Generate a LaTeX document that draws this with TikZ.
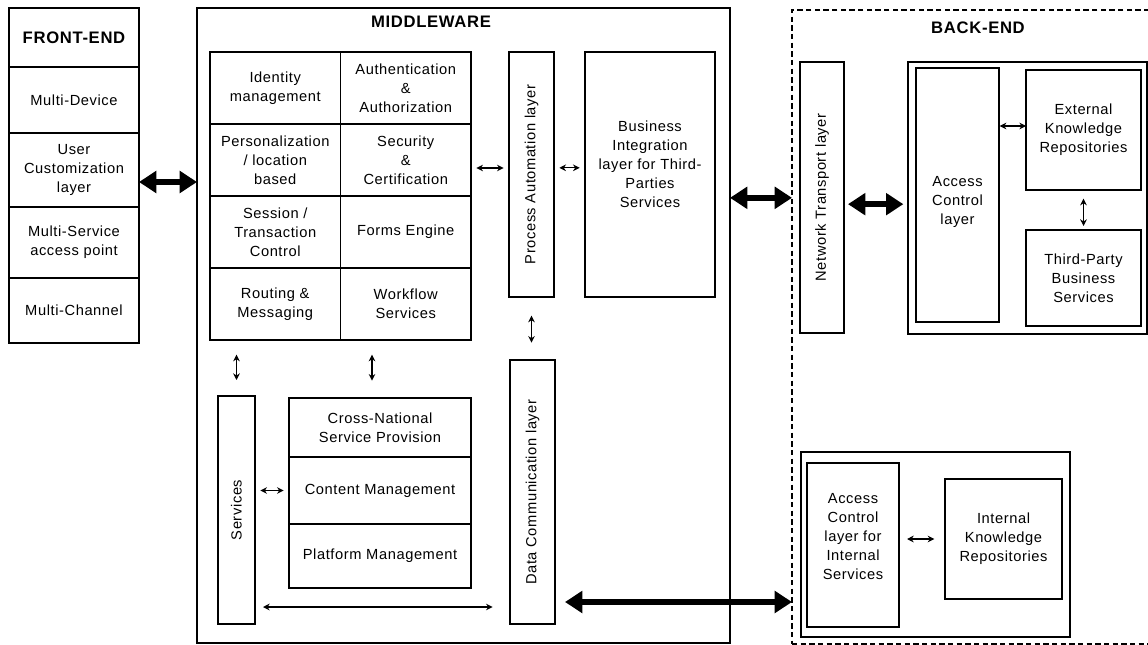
\documentclass[tikz,border=0pt]{standalone}
\usepackage{fontspec}
\setmainfont[LetterSpace=4]{Liberation Sans}
\usepackage{graphicx}
\usetikzlibrary{positioning, arrows.meta}
\newcommand{\cellfont}{\fontsize{11}{14.2}\selectfont}
\newcommand{\headfont}{\fontsize{12.5}{15}\selectfont\bfseries}
\newcommand{\lift}[2]{\raisebox{#1}[\height][\depth]{\begin{tabular}{@{}c@{}}#2\end{tabular}}} % moves a text block up in its box
\tikzset{
	box/.style={draw, line width=1pt, outer sep=0pt, inner sep=1pt, align=center, font=\cellfont}, % every block of the sketch
	sz/.style 2 args={minimum width=#1*0.75pt, minimum height=#2*0.75pt}, % size in pixels of the sketch
	dashbox/.style={dash pattern=on 4pt off 2.5pt}, % the back-end frame
	sarr/.style={{Stealth[length=5pt,width=5pt]}-{Stealth[length=5pt,width=5pt]}, line width=0.9pt, shorten >=4pt, shorten <=4pt}, % small two-way arrow
	bigarr/.style={{Triangle[length=13pt,width=16pt]}-{Triangle[length=13pt,width=16pt]}, line width=4.5pt}, % fat two-way arrow
}
\begin{document}
\begin{tikzpicture}[x=0.75pt, y=-0.75pt]
		\useasboundingbox (0,0) rectangle (1148,645);
		%
		\node[box, sz={130}{59}, font=\headfont] (ftitle) at (74,37.5) {FRONT-END};
		\node[box, sz={130}{66}, below=0pt of ftitle] (fdev) {Multi-Device};
		\node[box, sz={130}{74}, below=0pt of fdev] (fcust) {User\\Customization\\layer};
		\node[box, sz={130}{71}, below=0pt of fcust] (fserv) {Multi-Service\\access point};
		\node[box, sz={130}{65}, below=0pt of fserv] (fchan) {Multi-Channel};
		%
		\node[box, sz={533}{635}] (mw) at (463.5,325.5) {};
		\node[font=\headfont] (mwtitle) at (431,22) {MIDDLEWARE};
		\node[box, sz={130.5}{72}] (idm) at (275.25,88) {Identity\\management};
		\node[box, sz={130.5}{72}, right=0pt of idm] (auth) {Authentication\\\&\\Authorization};
		\node[box, sz={130.5}{72}, below=0pt of idm] (pers) {Personalization\\/ location\\based};
		\node[box, sz={130.5}{72}, right=0pt of pers] (secu) {Security\\\&\\Certification};
		\node[box, sz={130.5}{72}, below=0pt of pers] (sess) {Session /\\Transaction\\Control};
		\node[box, sz={130.5}{72}, right=0pt of sess] (forms) {Forms Engine};
		\node[box, sz={130.5}{72}, below=0pt of sess] (rout) {Routing \&\\Messaging};
		\node[box, sz={130.5}{72}, right=0pt of rout] (work) {Workflow\\Services};
		\node[box, sz={45}{245}] (pa) at (531.5,174.5) {\rotatebox{90}{Process Automation layer}};
		\node[box, sz={130}{245}] (bi) at (650,174.5) {\lift{6.4pt}{Business\\Integration\\layer for Third-\\Parties\\Services}};
		\node[box, sz={45}{264}] (dc) at (532.5,492) {\rotatebox{90}{Data Communication layer}};
		\node[box, sz={37}{228}] (serv) at (236.5,510) {\rotatebox{90}{Services}};
		\node[box, sz={182}{59}] (cn) at (380,427.5) {Cross-National\\Service Provision};
		\node[box, sz={182}{67}, below=0pt of cn] (cm) {Content Management};
		\node[box, sz={182}{64}, below=0pt of cm] (pm) {Platform Management};
		%
		\node[box, dashbox, sz={360}{634}] (be) at (972,327) {};
		\node[font=\headfont] (betitle) at (978,28) {BACK-END};
		\node[box, sz={44}{271}] (nt) at (822,197.5) {\rotatebox{90}{Network Transport layer}};
		\node[box, sz={239}{272}] (ext) at (1027.5,198) {};
		\node[box, sz={83}{254}] (acl) at (957.5,195) {\lift{-5.3pt}{Access\\Control\\layer}};
		\node[box, sz={115}{120}] (ekr) at (1083.5,130) {External\\Knowledge\\Repositories};
		\node[box, sz={115}{96}] (tpb) at (1083.5,278) {Third-Party\\Business\\Services};
		\node[box, sz={269}{185}] (int) at (935.5,544.5) {};
		\node[box, sz={92}{164}] (acli) at (853,545) {\lift{5.3pt}{Access\\Control\\layer for\\Internal\\Services}};
		\node[box, sz={117}{120}] (ikr) at (1003.5,539) {Internal\\Knowledge\\Repositories};
		%
		\coordinate (fa) at ([yshift=-9pt]fcust.east);
		\draw[bigarr] (fa) -- (fa -| mw.west);
		\coordinate (ga) at ([yshift=-6pt]secu.east);
		\draw[sarr] (ga) -- (ga -| pa.west);
		\coordinate (pb) at ([yshift=5pt]pa.east);
		\draw[sarr] (pb) -- (pb -| bi.west);
		\draw[sarr, shorten <=14pt, shorten >=13pt] (pa.south) -- (pa.south |- dc.north);
		\coordinate (bt) at ([yshift=-17.5pt]bi.east);
		\draw[bigarr] (bt -| mw.east) -- (bt -| be.west);
		%
		\draw[sarr, shorten <=12pt, shorten >=11pt] (serv.north) -- (serv.north |- rout.south);
		\coordinate (cu) at ([xshift=-6pt]cn.north);
		\draw[sarr, shorten <=13pt, shorten >=11pt] (cu) -- (cu |- work.south);
		\draw[sarr] (serv.east |- cm.west) -- (cm.west);
		\coordinate (sb) at ([yshift=-72.75pt]serv.east);
		\draw[sarr, shorten <=6pt, shorten >=13pt] (sb) -- (sb -| dc.west);
		\coordinate (db) at ([yshift=-82.5pt]dc.east);
		\draw[bigarr, shorten <=7.5pt] (db) -- (db -| be.west);
		%
		\coordinate (nb) at ([yshift=-5pt]nt.east);
		\draw[bigarr, shorten <=3pt, shorten >=3.5pt] (nb) -- (nb -| ext.west);
		\coordinate (ea) at ([yshift=3pt]ekr.west);
		\draw[sarr, shorten <=0.5pt, shorten >=0pt] (ea -| acl.east) -- (ea);
		\draw[sarr, shorten <=6.5pt, shorten >=3pt] (ekr.south) -- (tpb.north);
		\draw[sarr, shorten <=6pt, shorten >=8pt] (acli.east |- ikr.west) -- (ikr.west);
\end{tikzpicture}
\end{document}
